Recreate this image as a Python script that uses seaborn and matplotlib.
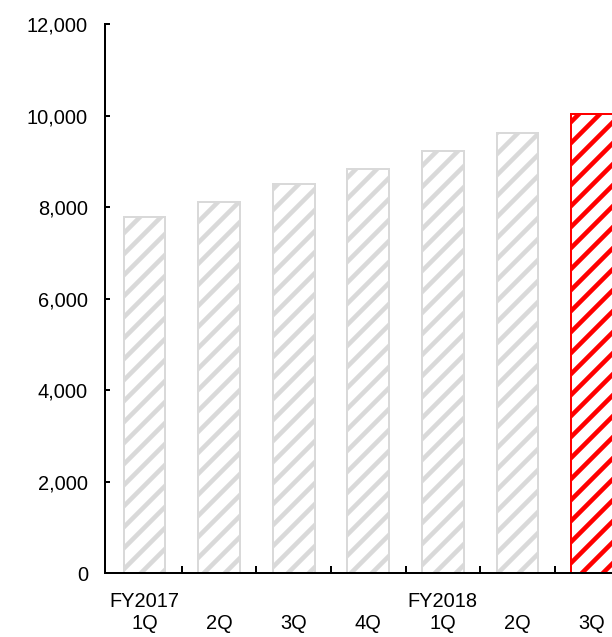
import matplotlib
matplotlib.use("Agg")
import matplotlib.pyplot as plt
import seaborn as sns
import pandas as pd

# ---- data ----
periods = ["FY2017 1Q", "FY2017 2Q", "FY2017 3Q", "FY2017 4Q", "FY2018 1Q", "FY2018 2Q", "FY2018 3Q"]
fiscal_year_labels = ["FY2017", "", "", "", "FY2018", "", ""]
quarter_labels = ["1Q", "2Q", "3Q", "4Q", "1Q", "2Q", "3Q"]
values = [7780, 8120, 8510, 8840, 9225, 9620, 10050]
highlight = [False, False, False, False, False, False, True]
y_ticks = [0, 2000, 4000, 6000, 8000, 10000, 12000]

sns.set_style("ticks")
plt.rcParams["font.family"] = ["Liberation Sans", "DejaVu Sans"]
plt.rcParams["hatch.linewidth"] = 2.6

DPI = 126
W, H = 612, 637
PX = 72.0 / DPI  # points per pixel

fig = plt.figure(figsize=(W / DPI, H / DPI), dpi=DPI)
left, right, top, bottom = 105, 627, 24.3, 573.3
ax = fig.add_axes([left / W, 1 - bottom / H, (right - left) / W, (bottom - top) / H])

df = pd.DataFrame({"period": periods, "value": values})
grey = "#d9d9d9"
red = "#ff0000"
palette = {p: "white" for p in periods}
sns.barplot(data=df, x="period", y="value", hue="period", order=periods,
            palette=palette, legend=False, width=0.56, ax=ax, saturation=1)

for patch, hl in zip(ax.patches, highlight):
    c = red if hl else grey
    patch.set_facecolor("white")
    patch.set_edgecolor(c)
    patch.set_linewidth(2 * PX)
    patch.set_hatch("//")

ax.set_xlim(-0.53, 6.47)
ax.set_ylim(0, 12000)
ax.set_yticks(y_ticks)
ax.set_yticklabels([f"{v:,}" for v in y_ticks])

ax.set_xticks(range(len(periods)))
ax.set_xticklabels([f"{fy}\n{q}" for fy, q in zip(fiscal_year_labels, quarter_labels)])
ax.set_xticks([i + 0.5 for i in range(len(periods) - 1)], minor=True)

ax.set_xlabel("")
ax.set_ylabel("")

fs = 20 * PX
ax.tick_params(axis="y", direction="in", length=5 * PX, width=2 * PX, pad=17 * PX,
               labelsize=fs, colors="black")
ax.tick_params(axis="x", which="major", length=0, pad=19 * PX, labelsize=fs, colors="black")
ax.tick_params(axis="x", which="minor", direction="in", length=7 * PX, width=2 * PX, color="black")

for s in ["top", "right"]:
    ax.spines[s].set_visible(False)
for s in ["left", "bottom"]:
    ax.spines[s].set_linewidth(2 * PX)
    ax.spines[s].set_color("black")

fig.savefig("out.png", dpi=DPI)
